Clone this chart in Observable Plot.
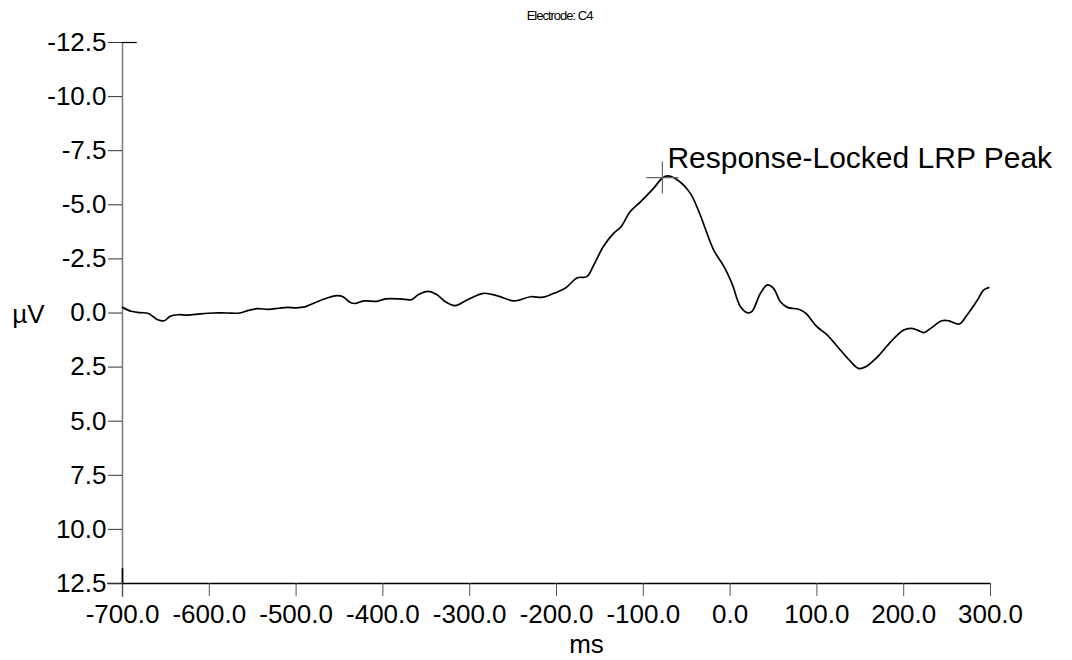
<!DOCTYPE html>
<html>
<head>
<meta charset="utf-8">
<script src="https://cdn.jsdelivr.net/npm/d3@7"></script>
<script src="https://cdn.jsdelivr.net/npm/@observablehq/plot@0.6"></script>
<style>
  html, body { margin: 0; padding: 0; background: #fff; }
  .title-text text { letter-spacing: -1px; }
</style>
</head>
<body>
<div id="chart"></div>
<script>
// Time (ms) of each sampled point of the waveform
const timeMs = [
  -700, -690, -680, -670, -660, -652, -645, -636, -625, -610, -595, -580, -565, -555, -545,
  -532, -520, -510, -500, -490, -480, -465, -453, -446, -438, -432, -422, -407, -397, -380,
  -367, -359, -348, -338, -328, -317, -303, -284, -268, -249, -230, -215, -203, -190, -176,
  -165, -157, -146, -134, -126, -115, -103, -88, -78, -72, -61, -46, -36, -19, -7,
  2, 12, 20, 25, 35, 43, 50, 58, 66, 79, 87, 100, 112, 127, 139,
  148, 156, 170, 185, 200, 208, 216, 223, 231, 244, 252, 264, 273, 285, 292, 298
];
// Amplitude (µV) at each time point (negative plotted upward)
const amplitudeUv = [
  -0.26, -0.08, -0.02, 0.02, 0.30, 0.36, 0.15, 0.08, 0.10, 0.04, 0.00, 0.00, 0.00, -0.12, -0.20,
  -0.17, -0.22, -0.26, -0.24, -0.28, -0.45, -0.68, -0.80, -0.75, -0.50, -0.44, -0.56, -0.54, -0.65, -0.65,
  -0.62, -0.85, -1.00, -0.85, -0.52, -0.34, -0.60, -0.91, -0.79, -0.56, -0.75, -0.73, -0.91, -1.14, -1.63,
  -1.68, -2.22, -3.07, -3.69, -3.97, -4.69, -5.15, -5.77, -6.24, -6.34, -6.16, -5.54, -4.69, -2.92, -2.14,
  -1.38, -0.29, -0.01, -0.06, -0.91, -1.30, -1.14, -0.52, -0.26, -0.17, 0.01, 0.63, 1.02, 1.71, 2.25,
  2.56, 2.49, 2.02, 1.33, 0.79, 0.71, 0.79, 0.91, 0.71, 0.36, 0.36, 0.51, 0.09, -0.60, -1.06, -1.17
];
// Peak annotation
const peakMs = [-78];
const peakUv = [-6.26];
const peakLabel = ["Response-Locked LRP Peak"];

// Axis ticks and labels
const xTicks = [-700, -600, -500, -400, -300, -200, -100, 0, 100, 200, 300];
const yTicks = [-12.5, -10, -7.5, -5, -2.5, 0, 2.5, 5, 7.5, 10, 12.5];
const titleText = "Electrode: C4";
const xLabel = "ms";
const yLabel = "µV";

const wave = timeMs.map((t, i) => ({t, v: amplitudeUv[i]}));
const peak = peakMs.map((t, i) => ({t, v: peakUv[i], label: peakLabel[i]}));

const crossSymbol = {
  draw(context, size) {
    const r = Math.sqrt(size / Math.PI);
    context.moveTo(-r, 0); context.lineTo(r, 0);
    context.moveTo(0, -r); context.lineTo(0, r);
  }
};

const xMin = xTicks[0], xMax = xTicks[xTicks.length - 1];
const yTop = yTicks[0], yBottom = yTicks[yTicks.length - 1];

const chart = Plot.plot({
  width: 1072,
  height: 660,
  marginLeft: 122,
  marginRight: 82,
  marginTop: 42,
  marginBottom: 77,
  style: {fontFamily: "'Liberation Sans', Arial, sans-serif", fontSize: "26px", background: "#fff", color: "#000"},
  x: {domain: [xMin, xMax], ticks: xTicks},
  y: {domain: [yBottom, yTop], ticks: yTicks},
  marks: [
    // y axis line (gray, extends below the x axis)
    Plot.ruleX([xMin], {y1: yTop, y2: yBottom + 0.65, stroke: "#808080", strokeWidth: 1.6, clip: false}),
    // x axis line
    Plot.ruleY([yBottom], {x1: xMin - 17, x2: xMax, stroke: "#000", strokeWidth: 1.4}),
    // corner marks
    Plot.ruleY([yTop], {x1: xMin, x2: xMin + 17, stroke: "#000", strokeWidth: 1.2}),
    Plot.ruleX([xMin], {y1: yBottom - 0.68, y2: yBottom, stroke: "#000", strokeWidth: 1.6}),
    Plot.axisY({ticks: yTicks, tickFormat: d => d.toFixed(1), tickSize: 14, tickPadding: 2, fontSize: 26, stroke: "#333", label: null}),
    Plot.axisX({ticks: xTicks, tickFormat: d => d.toFixed(1), tickSize: 13, tickPadding: 8, fontSize: 26, stroke: "#555", label: null}),
    // waveform
    Plot.line(wave, {x: "t", y: "v", stroke: "#000", strokeWidth: 1.7, curve: "catmull-rom"}),
    // peak marker
    Plot.dot(peak, {x: "t", y: "v", symbol: crossSymbol, r: 16, stroke: "#666", strokeWidth: 1.2, fill: "none"}),
    Plot.text(peak, {x: "t", y: "v", text: "label", textAnchor: "start", dx: 5, dy: -19, fontSize: 30, fill: "#000"}),
    // title and axis labels
    Plot.text([titleText], {frameAnchor: "top", dy: -32, dx: 3, fontSize: 13, fill: "#000", className: "title-text"}),
    Plot.text([yLabel], {frameAnchor: "left", textAnchor: "middle", dx: -94, dy: 2, fontSize: 26, fill: "#000"}),
    Plot.text([xLabel], {frameAnchor: "bottom", textAnchor: "middle", dx: 30, dy: 69, fontSize: 26, fill: "#000"})
  ]
});
document.getElementById("chart").appendChild(chart);
</script>
</body>
</html>
